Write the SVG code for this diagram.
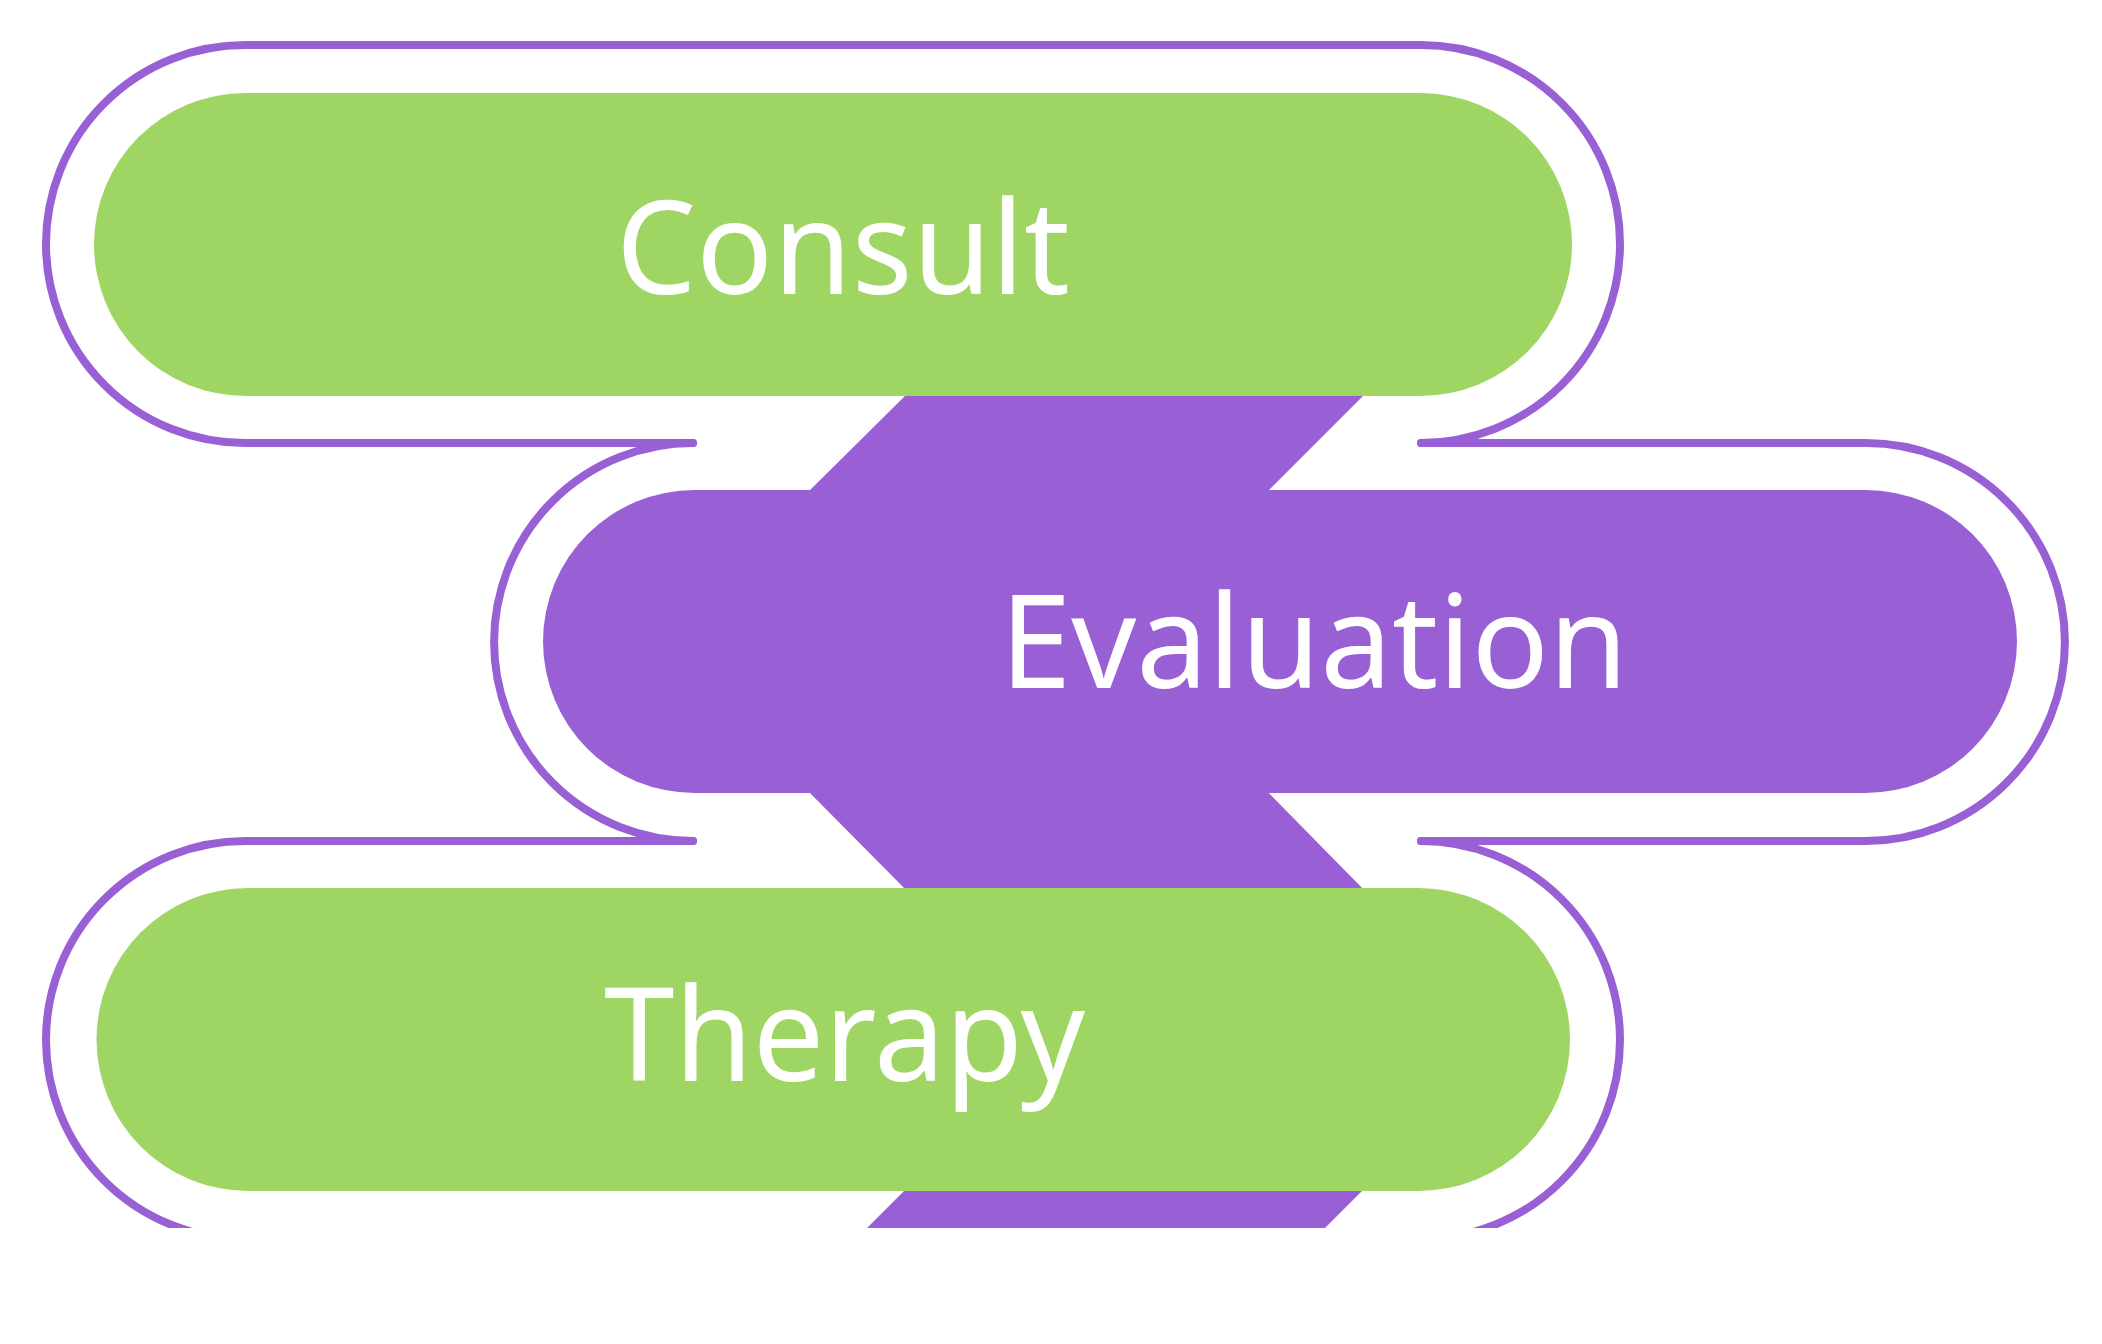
<svg xmlns="http://www.w3.org/2000/svg" width="2102" height="1344" viewBox="0 0 2102 1344">
<style>
.outline{fill:none;stroke:#9960d5;stroke-width:8;stroke-linecap:round}
.link{fill:#9960d5}
.green{fill:#9fd663}
.purple{fill:#9960d5}
.label{font-family:"Noto Sans","Open Sans",sans-serif;font-size:130px;fill:#ffffff}
</style>
<defs>
<clipPath id="clip"><rect x="0" y="0" width="2102" height="1228"/></clipPath>
</defs>
<rect x="0" y="0" width="2102" height="1344" fill="#ffffff"/>
<g clip-path="url(#clip)">
<g id="connectors">
<path class="outline" d="M 693 443 H 245 A 199 199 0 0 1 245 45 H 1421 A 199 199 0 0 1 1421 443"/>
<path class="outline" d="M 1421 443 H 1866 A 199 199 0 0 1 1866 841 H 1421"/>
<path class="outline" d="M 693 443 A 199 199 0 0 0 693 841"/>
<path class="outline" d="M 693 841 H 245 A 199 199 0 0 0 46 1040 A 199 199 0 0 0 245 1239"/>
<path class="outline" d="M 1421 841 A 199 199 0 0 1 1620 1040 A 199 199 0 0 1 1421 1239"/>
<polygon class="link" points="911,390 1369,390 1263,496 804,496"/>
<polygon class="link" points="804,787 1263,787 1369,895 911,895"/>
<polygon class="link" points="911,1184 1369,1184 1313,1240 855,1240"/>
</g>
<g id="node-consult">
<rect class="green" x="94" y="93" width="1478" height="303" rx="151.5" ry="151.5"/>
<text class="label" x="616" y="294" textLength="454" lengthAdjust="spacingAndGlyphs">Consult</text>
</g>
<g id="node-evaluation">
<rect class="purple" x="543" y="490" width="1474" height="303" rx="151.5" ry="151.5"/>
<text class="label" x="1000" y="688" textLength="628" lengthAdjust="spacingAndGlyphs">Evaluation</text>
</g>
<g id="node-therapy">
<rect class="green" x="96.5" y="888" width="1473.5" height="303" rx="151.5" ry="151.5"/>
<text class="label" x="604" y="1081" textLength="481" lengthAdjust="spacingAndGlyphs">Therapy</text>
</g>
</g>
</svg>
